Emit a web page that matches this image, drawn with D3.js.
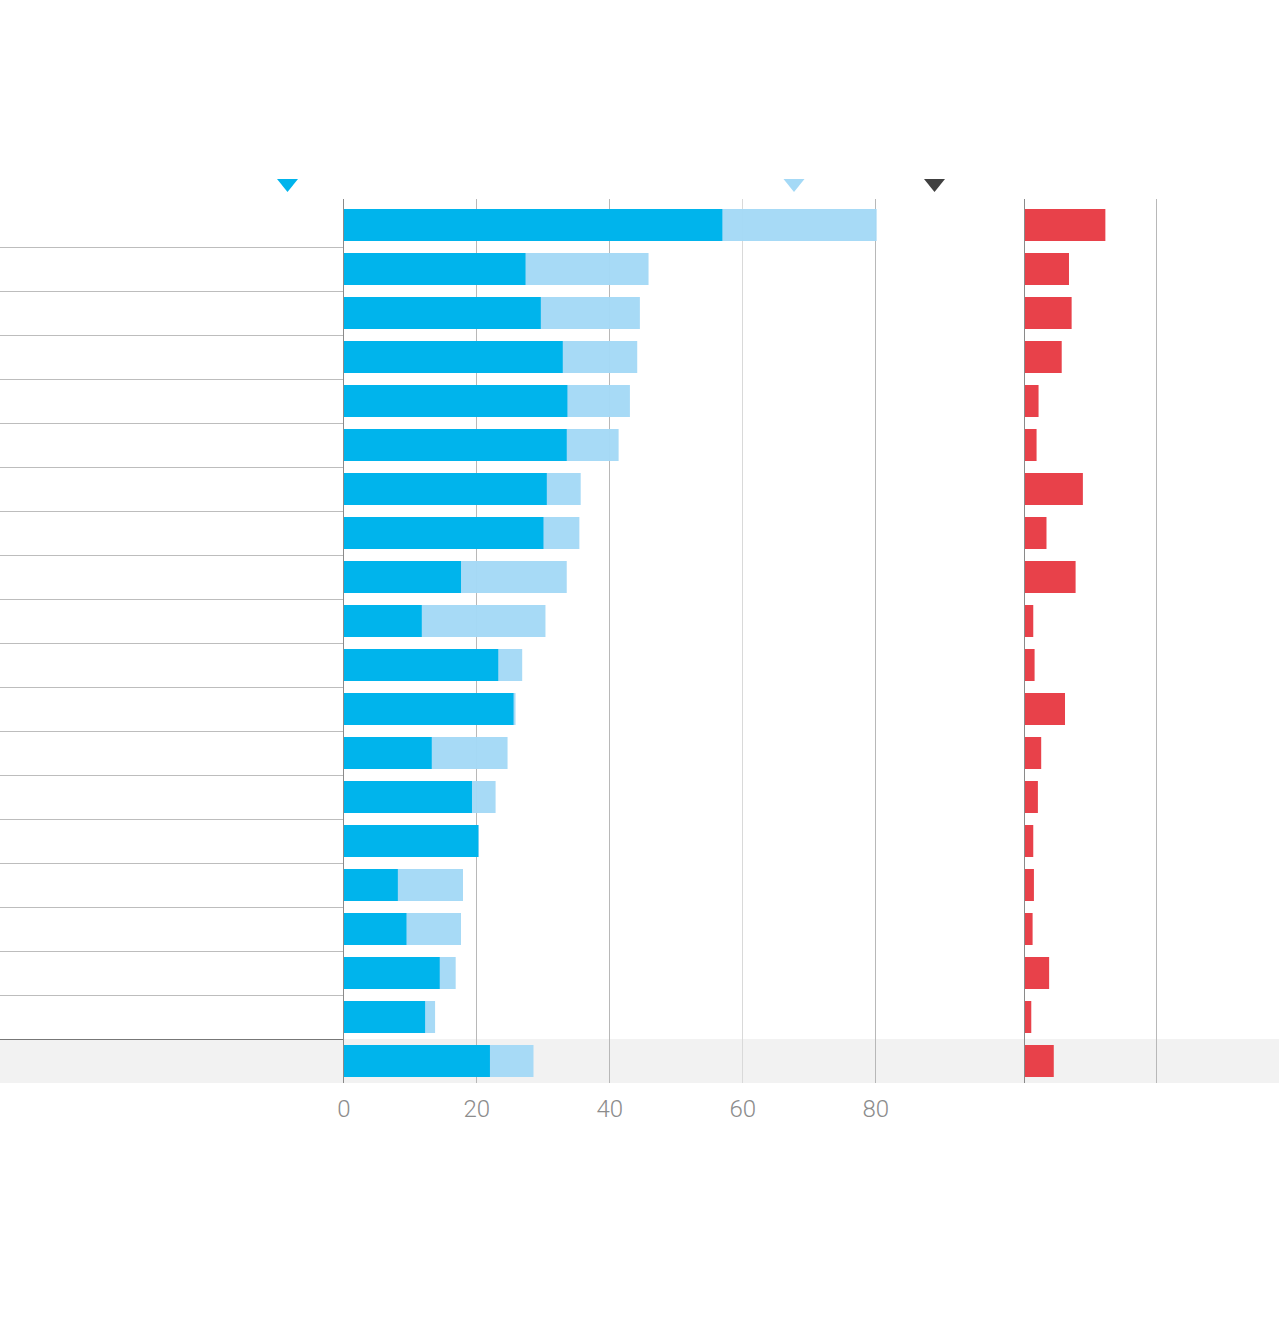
<!DOCTYPE html>
<html>
<head>
<meta charset="utf-8">
<script src="https://cdn.jsdelivr.net/npm/d3@7"></script>
<style>
  html, body { margin: 0; padding: 0; background: #fff; }
  svg { display: block; }
</style>
</head>
<body>
<svg id="chart" width="1280" height="1320"></svg>
<script>
// ---- data ----
const categories = ["r1","r2","r3","r4","r5","r6","r7","r8","r9","r10",
                    "r11","r12","r13","r14","r15","r16","r17","r18","r19","r20"];
const darkValues  = [57.0, 27.4, 29.7, 33.0, 33.7, 33.6, 30.6, 30.1, 17.7, 11.8,
                     23.3, 25.6, 13.3, 19.35, 20.3, 8.2, 9.5, 14.5, 12.3, 22.05];
const lightValues = [80.2, 45.9, 44.6, 44.2, 43.1, 41.4, 35.7, 35.5, 33.6, 30.4,
                     26.9, 25.9, 24.7, 22.9, 20.4, 18.0, 17.7, 16.9, 13.8, 28.6];
const redValues   = [12.3, 6.8, 7.2, 5.7, 2.2, 1.9, 8.9, 3.4, 7.8, 1.4,
                     1.6, 6.2, 2.6, 2.1, 1.4, 1.5, 1.3, 3.8, 1.1, 4.5];
const mainTicks = [0, 20, 40, 60, 80];
const redTicks  = [0, 20];
const highlighted = "r20";

const rows = categories.map((c, i) => ({cat: c, dark: darkValues[i], light: lightValues[i], red: redValues[i]}));

// ---- layout ----
const svg = d3.select("#chart");
const plotTop = 199, plotBottom = 1083;
const x = d3.scaleLinear().domain([0, 80]).range([343.3, 875.3]);
const xr = d3.scaleLinear().domain([0, 20]).range([1024, 1156.3]);
const y = d3.scaleBand().domain(categories).range([203, 1083]).padding(0);
const barPad = 6;

const C_DARK = "#00b4ec", C_LIGHT = "#a4d9f6", C_RED = "#e8414a";

// highlighted band
svg.append("rect")
  .attr("x", 0).attr("width", 1279)
  .attr("y", y(highlighted)).attr("height", y.bandwidth())
  .attr("fill", "#f2f2f2");

// row separators (left label area)
svg.append("g").selectAll("line")
  .data(categories.slice(1))
  .join("line")
  .attr("x1", 0).attr("x2", x(0))
  .attr("y1", d => y(d) + 0.5).attr("y2", d => y(d) + 0.5)
  .attr("stroke", d => d === highlighted ? "#777" : "#bdbdbd")
  .attr("stroke-width", 1);

// gridlines main
svg.append("g").selectAll("line")
  .data(mainTicks.filter(t => t > 0))
  .join("line")
  .attr("x1", d => Math.round(x(d)) + 0.5).attr("x2", d => Math.round(x(d)) + 0.5)
  .attr("y1", plotTop).attr("y2", plotBottom)
  .attr("stroke", d => d === 60 ? "#d9d9d9" : "#b8b8b8");

// gridlines red panel
svg.append("g").selectAll("line")
  .data(redTicks.filter(t => t > 0))
  .join("line")
  .attr("x1", d => Math.round(xr(d)) + 0.5).attr("x2", d => Math.round(xr(d)) + 0.5)
  .attr("y1", plotTop).attr("y2", plotBottom)
  .attr("stroke", "#b8b8b8");

// light bars (behind)
svg.append("g").selectAll("rect")
  .data(rows)
  .join("rect")
  .attr("x", x(0))
  .attr("y", d => y(d.cat) + barPad)
  .attr("width", d => x(d.light) - x(0))
  .attr("height", y.bandwidth() - 2 * barPad)
  .attr("fill", C_LIGHT)
  .attr("opacity", 0.97);

// dark bars
svg.append("g").selectAll("rect")
  .data(rows)
  .join("rect")
  .attr("x", x(0))
  .attr("y", d => y(d.cat) + barPad)
  .attr("width", d => x(d.dark) - x(0))
  .attr("height", y.bandwidth() - 2 * barPad)
  .attr("fill", C_DARK);

// red bars
svg.append("g").selectAll("rect")
  .data(rows)
  .join("rect")
  .attr("x", xr(0))
  .attr("y", d => y(d.cat) + barPad)
  .attr("width", d => xr(d.red) - xr(0))
  .attr("height", y.bandwidth() - 2 * barPad)
  .attr("fill", C_RED);

// axis lines (zero lines)
[x(0), xr(0)].forEach(px => {
  svg.append("line")
    .attr("x1", Math.round(px) + 0.5).attr("x2", Math.round(px) + 0.5)
    .attr("y1", plotTop).attr("y2", plotBottom)
    .attr("stroke", "#8a8a8a").attr("stroke-width", 1);
});

// bottom axis tick labels
const axis = d3.axisBottom(x).tickValues(mainTicks).tickSize(0).tickPadding(0).tickFormat(d3.format("d"));
const gAxis = svg.append("g").attr("transform", `translate(0, ${plotBottom})`).call(axis);
gAxis.select(".domain").remove();
gAxis.selectAll("text")
  .attr("dy", 0).attr("y", 34)
  .style("font-family", "Roboto, 'Noto Sans', sans-serif")
  .style("font-weight", 300)
  .style("font-size", "24px")
  .attr("fill", "#8c8c8c");

// header markers (legend triangles)
const markers = [
  {cx: 287.5, color: C_DARK},
  {cx: 794, color: C_LIGHT},
  {cx: 934.5, color: "#404040"}
];
svg.append("g").selectAll("path")
  .data(markers)
  .join("path")
  .attr("d", d => `M${d.cx - 10.5},179 L${d.cx + 10.5},179 L${d.cx},192 Z`)
  .attr("fill", d => d.color);
</script>
</body>
</html>
